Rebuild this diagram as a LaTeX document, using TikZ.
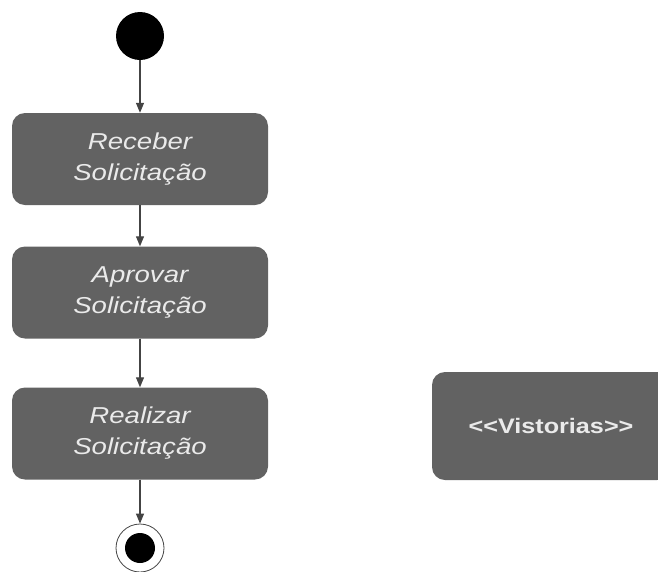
\documentclass[tikz,border=0pt]{standalone}
\usepackage{fontspec}
\newfontfamily\actfont[FakeStretch=1.2]{Liberation Sans}
\usetikzlibrary{arrows.meta}
\definecolor{actfill}{HTML}{626262}
\definecolor{acttext}{HTML}{EAEAEA}
\definecolor{flowline}{HTML}{444444}
\begin{document}
\begin{tikzpicture}[x=1pt, y=-1pt, >={Triangle[length=10pt, width=8pt]},
    actbox/.style={rectangle, rounded corners=13pt, fill=actfill, text=acttext,
      minimum width=256pt, minimum height=92pt, align=center, inner sep=0pt,
      font=\actfont\itshape\fontsize{23}{31}\selectfont},
    flow/.style={->, draw=flowline, fill=flowline, line width=1.2pt}]
  \useasboundingbox (0,0) rectangle (658,571);
  \begin{scope}
    \clip (0,0) rectangle (658,571);

    % inicio
    \node[circle, fill=black, minimum size=48pt, inner sep=0pt] (ini) at (140,36) {};

    % atividades
    \node[actbox] (receber) at (140,159) {Receber\\Solicitação};
    \node[actbox] (aprovar) at (140,292.5) {Aprovar\\Solicitação};
    \node[actbox] (realizar) at (140,433.5) {Realizar\\Solicitação};

    % fim
    \node[circle, draw=flowline, fill=white, line width=0.8pt, minimum size=48pt, inner sep=0pt] (fim) at (140,548) {};
    \fill[black] (fim.center) circle (15pt);

    % fluxo
    \draw[flow] (ini) -- (receber);
    \draw[flow] (receber) -- (aprovar);
    \draw[flow] (aprovar) -- (realizar);
    \draw[flow] (realizar) -- (fim);

    % estereotipo
    \node[actbox, minimum width=238pt, minimum height=108pt,
      font=\actfont\bfseries\fontsize{21}{25}\selectfont] (vistorias) at (551,426) {<{}<Vistorias>{}>};
  \end{scope}
\end{tikzpicture}
\end{document}
